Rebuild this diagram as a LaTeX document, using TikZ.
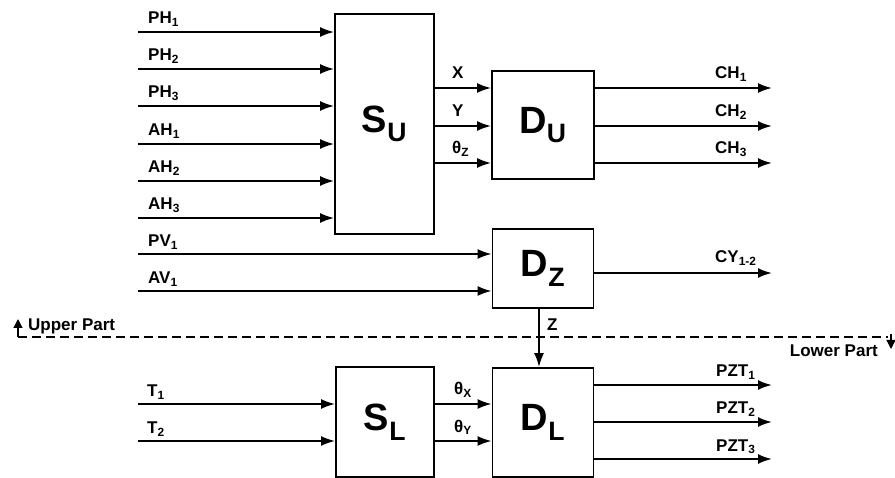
\documentclass[tikz,border=0pt]{standalone}
\usepackage{fontspec}
\setmainfont{Liberation Sans}
\usetikzlibrary{arrows.meta,positioning,calc}

\tikzset{
  block/.style={draw,line width=1.8pt,inner sep=0pt,font=\bfseries\fontsize{38}{40}\selectfont},
  sig/.style={line width=2pt,-{Latex[length=14pt,width=10pt]}},
  lbl/.style={anchor=base west,inner sep=0pt,font=\bfseries\fontsize{17}{19}\selectfont},
  part/.style={inner sep=0pt,font=\bfseries\fontsize{17}{19}\selectfont}
}

\begin{document}
\begin{tikzpicture}[x=1pt,y=-1pt]
  \useasboundingbox (0,0) rectangle (895,478);

  % blocks
  \node[block,minimum width=99pt,minimum height=220pt] (SU) at (384.5,124) {S\textsubscript{U}};
  \node[block,minimum width=102pt,minimum height=108pt] (DU) at (543,125) {D\textsubscript{U}};
  \node[block,minimum width=101pt,minimum height=79pt] (DZ) at (543,268.5) {D\textsubscript{Z}};
  \node[block,minimum width=98pt,minimum height=110pt] (SL) at (385,422) {S\textsubscript{L}};
  \node[block,minimum width=101pt,minimum height=109pt] (DL) at (543,422.5) {D\textsubscript{L}};

  % upper part: sensors into S_U
  \foreach \y/\t [count=\i] in {32/PH\textsubscript{1},69/PH\textsubscript{2},106/PH\textsubscript{3},
      144/AH\textsubscript{1},181/AH\textsubscript{2},218/AH\textsubscript{3}}
  {
    \coordinate (in\i) at (138,\y);
    \draw[sig] (in\i) -- (in\i -| SU.west);
    \node[lbl] (lin\i) at ($(in\i)+(10,-8)$) {\t};
  }

  % S_U to D_U and outputs of D_U
  \foreach \y/\t/\c [count=\i] in {88/X/CH\textsubscript{1},126/Y/CH\textsubscript{2},163/θ\textsubscript{Z}/CH\textsubscript{3}}
  {
    \coordinate (m\i) at (0,\y);
    \coordinate (o\i) at (772,\y);
    \draw[sig] (SU.east |- m\i) -- (DU.west |- m\i);
    \node[lbl] (lm\i) at (452,\y-9) {\t};
    \draw[sig] (DU.east |- o\i) -- (o\i);
    \node[lbl] (lo\i) at (715,\y-9) {\c};
  }

  % D_Z
  \foreach \y/\t [count=\i] in {254/PV\textsubscript{1},291/AV\textsubscript{1}}
  {
    \coordinate (v\i) at (138,\y);
    \draw[sig] (v\i) -- (v\i -| DZ.west);
    \node[lbl] (lv\i) at ($(v\i)+(10,-7)$) {\t};
  }
  \coordinate (cy) at (772,273);
  \draw[sig] (DZ.east |- cy) -- (cy);
  \node[lbl] (lcy) at (715,263) {CY\textsubscript{1-2}};

  % separation line
  \coordinate (sepl) at (18,337);
  \coordinate (sepr) at (888,337);
  \draw[line width=1.6pt,dash pattern=on 9pt off 5pt] (sepl) -- (sepr);
  \draw[line width=1.2pt,-{Triangle[length=9pt,width=9pt]}] (sepl) -- ++(0,-18);
  \draw[line width=1.2pt,-{Triangle[length=9pt,width=9pt]}] (891,334) -- ++(0,15);
  \node[part,anchor=base west] (up) at (28,331) {Upper Part};
  \node[part,anchor=base east] (low) at (878,357) {Lower Part};

  % Z from D_Z to D_L
  \coordinate (zc) at (539,0);
  \draw[sig] (DZ.south -| zc) -- (DL.north -| zc);
  \node[lbl] (lz) at (547,331) {Z};

  % lower part
  \foreach \y/\t/\s [count=\i] in {404/T\textsubscript{1}/θ\textsubscript{X},441/T\textsubscript{2}/θ\textsubscript{Y}}
  {
    \coordinate (t\i) at (138,\y);
    \draw[sig] (t\i) -- (t\i -| SL.west);
    \node[lbl] (lt\i) at ($(t\i)+(9,-7)$) {\t};
    \draw[sig] (SL.east |- t\i) -- (DL.west |- t\i);
    \node[lbl] (ls\i) at (454,\y-9) {\s};
  }
  \foreach \y [count=\i] in {385,422,459}
  {
    \coordinate (p\i) at (772,\y);
    \draw[sig] (DL.east |- p\i) -- (p\i);
    \node[lbl] (lp\i) at (716,\y-8) {PZT\textsubscript{\i}};
  }
\end{tikzpicture}
\end{document}
